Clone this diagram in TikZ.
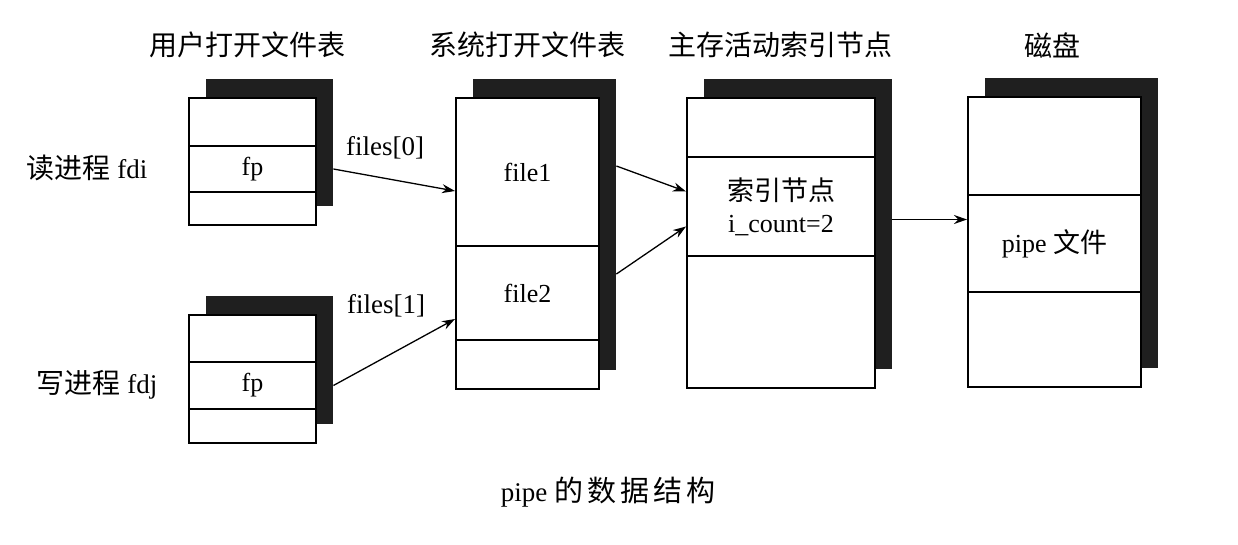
\documentclass[tikz,border=0pt]{standalone}
\usepackage{fontspec}
\setmainfont{Liberation Serif}
\newfontfamily\cjk{Noto Sans CJK SC}
\usetikzlibrary{arrows.meta}
\begin{document}
\begin{tikzpicture}[x=1pt,y=-1pt,
  cell/.style={draw=black,line width=2pt,fill=white,inner sep=0pt,anchor=north west,align=center,font=\fontsize{26}{32}\selectfont},
  shadowbox/.style={fill=black!88,draw=none,inner sep=0pt,anchor=north west},
  title/.style={font=\cjk\fontsize{28}{30}\selectfont},
  lab/.style={font=\fontsize{27}{30}\selectfont},
  arr/.style={-{Stealth[length=13pt,width=9pt]},line width=1.3pt}]
\useasboundingbox (0,0) rectangle (1238,544);

% titles
\node[title] (t1) at (247,45) {用户打开文件表};
\node[title] (t2) at (527,45) {系统打开文件表};
\node[title] (t3) at (780,45) {主存活动索引节点};
\node[title] (t4) at (1052,45) {磁盘};

% user table (read)
\node[shadowbox,minimum width=127pt,minimum height=127pt] (s1) at (206,79) {};
\node[cell,minimum width=127pt,minimum height=48pt] (u1a) at (188,97) {};
\node[cell,minimum width=127pt,minimum height=46pt] (u1b) at (188,145) {fp};
\node[cell,minimum width=127pt,minimum height=33pt] (u1c) at (188,191) {};

% user table (write)
\node[shadowbox,minimum width=127pt,minimum height=128pt] (s2) at (206,296) {};
\node[cell,minimum width=127pt,minimum height=47pt] (u2a) at (188,314) {};
\node[cell,minimum width=127pt,minimum height=47pt] (u2b) at (188,361) {fp};
\node[cell,minimum width=127pt,minimum height=34pt] (u2c) at (188,408) {};

% system table
\node[shadowbox,minimum width=143pt,minimum height=291pt] (s3) at (473,79) {};
\node[cell,minimum width=143pt,minimum height=148pt] (f1) at (455,97) {file1};
\node[cell,minimum width=143pt,minimum height=94pt] (f2) at (455,245) {file2};
\node[cell,minimum width=143pt,minimum height=49pt] (f3) at (455,339) {};

% inode table
\node[shadowbox,minimum width=188pt,minimum height=290pt] (s4) at (704,79) {};
\node[cell,minimum width=188pt,minimum height=59pt] (i1) at (686,97) {};
\node[cell,minimum width=188pt,minimum height=99pt] (i2) at (686,156) {{\cjk\fontsize{27}{32}\selectfont 索引节点}\\i\_count=2};
\node[cell,minimum width=188pt,minimum height=132pt] (i3) at (686,255) {};

% disk
\node[shadowbox,minimum width=173pt,minimum height=290pt] (s5) at (985,78) {};
\node[cell,minimum width=173pt,minimum height=98pt] (d1) at (967,96) {};
\node[cell,minimum width=173pt,minimum height=97pt] (d2) at (967,194) {pipe {\cjk\fontsize{27}{32}\selectfont 文件}};
\node[cell,minimum width=173pt,minimum height=95pt] (d3) at (967,291) {};

% side labels
\node[lab] (lr) at (87,168) {{\cjk\fontsize{28}{30}\selectfont 读进程} fdi};
\node[lab] (lw) at (97,385) {{\cjk\fontsize{28}{30}\selectfont 写进程} fdj};
\node[lab] (fl0) at (385,148) {files[0]};
\node[lab] (fl1) at (386,306) {files[1]};

% arrows
\coordinate (h1) at ([yshift=-19pt]f1.west);
\coordinate (h2) at ([yshift=-26pt]f2.west);
\coordinate (h3) at ([yshift=15pt]i2.west);
\coordinate (h4) at ([yshift=-20pt]i2.west);
\coordinate (h5) at ([yshift=24pt]d2.west);
\coordinate (o3) at ([yshift=6pt]s3.east |- f1.center);
\coordinate (o4) at ([yshift=19pt]s3.east |- f2.center);
\draw[arr] (s1.east |- u1b.center) -- (h1);
\draw[arr] (s2.east |- u2b.center) -- (h2);
\draw[arr] (o3) -- (h3);
\draw[arr] (o4) -- (h4);
\draw[arr] (s4.east |- h5) -- (h5);

% caption
\node[font=\fontsize{27}{30}\selectfont] (cap) at (608,492) {pipe {\cjk\fontsize{29}{30}\selectfont 的\hspace{4pt}数\hspace{4pt}据\hspace{4pt}结\hspace{4pt}构}};
\end{tikzpicture}
\end{document}
